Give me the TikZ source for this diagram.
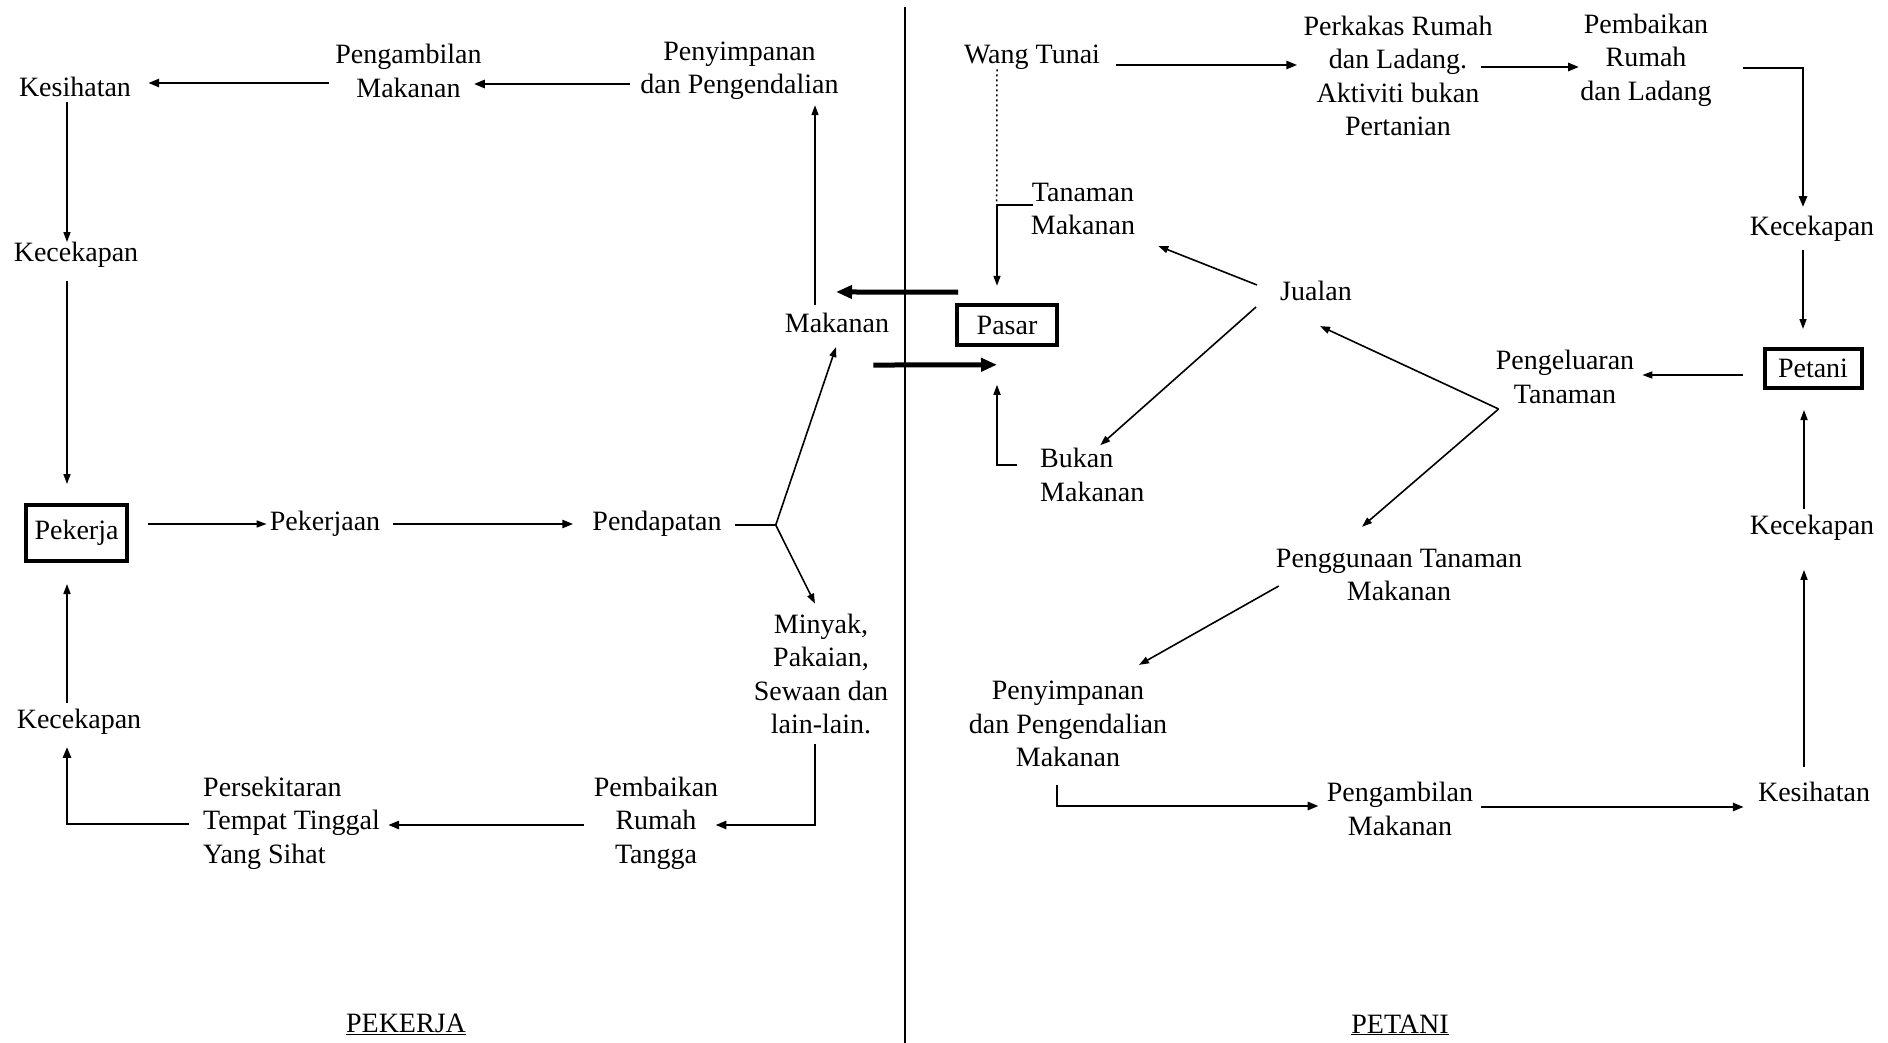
\documentclass[tikz,border=0pt]{standalone}
\usepackage{fontspec}
\setmainfont{Liberation Serif}
\usetikzlibrary{arrows.meta,calc}

\tikzset{
  teks/.style={font=\fontsize{28}{33.5}\selectfont, align=center, inner sep=0pt},
  kotak/.style={teks, draw, line width=4pt},
  panah/.style={line width=1.6pt, -{Triangle[length=10pt,width=7pt]}},
  panahB/.style={line width=2.6pt, -{Triangle[length=11pt,width=8pt]}},
  panahT/.style={line width=5pt, -{Triangle[length=16pt,width=13pt]}}
}

\begin{document}
\begin{tikzpicture}[x=1pt,y=-1pt]
  \useasboundingbox (0,0) rectangle (1888,1043);
  % 中央の仕切り線
  \draw[line width=2pt] (905,7) -- (905,1043);

  % 労働者側のノード
  \node[teks] (kesA) at (75,87) {Kesihatan};
  \node[teks] (pmbA) at (408.5,71) {Pengambilan\\Makanan};
  \node[teks] (pnyA) at (739.5,71) {Penyimpanan\\dan Pengendalian};
  \node[teks] (kcpA1) at (76,255) {Kecekapan};
  \node[kotak, minimum width=101pt, minimum height=56pt] (pkj) at (76.5,533) {Pekerja};
  \node[teks] (pkjn) at (325,524) {Pekerjaan};
  \node[teks] (pndp) at (657,524) {Pendapatan};
  \node[teks] (mkn) at (837,323) {Makanan};
  \node[teks] (mny) at (821,674) {Minyak,\\Pakaian,\\Sewaan dan\\lain-lain.};
  \node[teks] (pbkA) at (656,823) {Pembaikan\\Rumah\\Tangga};
  \node[teks, align=left, anchor=west] (psk) at (203,823) {Persekitaran\\Tempat Tinggal\\Yang Sihat};
  \node[teks] (kcpA2) at (79,722) {Kecekapan};
  \node[teks] (jdlA) at (406,1024) {\underline{PEKERJA}};

  % 労働者側の矢印
  \draw[panahB] ($(pnyA.west)+(-10,13)$) -- ($(pmbA.east)+(-8,13)$);
  \draw[panahB] ($(pmbA.west)+(-6,12)$) -- ($(kesA.east)+(17,-4)$);
  \draw[panah] ($(kesA.south)+(-8,5)$) -- ($(kcpA1.north)+(-9,0)$);
  \draw[panah] ($(kcpA1.south)+(-9,13)$) -- ($(pkj.north)+(-9.5,-19)$);
  \draw[panah] ($(pkj.east)+(19,-9)$) -- ($(pkjn.west)+(-3,0)$);
  \draw[panahB] ($(pkjn.east)+(13,0)$) -- ($(pndp.west)+(-19,0)$);
  \coordinate (simpang) at ($(pndp.east)+(54,1)$);
  \draw[line width=2.6pt] ($(pndp.east)+(13,1)$) -- (simpang);
  \draw[panah] (simpang) -- ($(mkn.south)+(-1,14)$);
  \draw[panah] (simpang) -- ($(mny.north)+(-6,-10)$);
  \draw[panah] ($(mkn.north)+(-22,-8)$) -- ($(pnyA.south)+(75.5,5)$);
  \draw[panahB] ($(mny.south)+(-6,10)$) |- ($(pbkA.east)+(-3,2)$);
  \draw[panahB] ($(pbkA.west)+(-10,2)$) -- ($(psk.east)+(8,2)$);
  \draw[panahB] ($(psk.west)+(-14,1)$) -| ($(kcpA2.south)+(-12,12)$);
  \draw[panah] ($(kcpA2.north)+(-12,-6)$) -- ($(pkj.south)+(-9.5,21)$);

  % 農民側のノード
  \node[teks] (wang) at (1032,57) {Wang Tunai};
  \node[teks] (pkk) at (1398,76) {Perkakas Rumah\\dan Ladang.\\Aktiviti bukan\\Pertanian};
  \node[teks] (pbkB) at (1646,60) {Pembaikan\\Rumah\\dan Ladang};
  \node[teks] (kcpB1) at (1812,229) {Kecekapan};
  \node[kotak, minimum width=97pt, minimum height=39pt] (pet) at (1813,368) {Petani};
  \node[teks] (pgl) at (1565,377) {Pengeluaran\\Tanaman};
  \node[teks] (jual) at (1316,291) {Jualan};
  \node[teks] (tnm) at (1083,209) {Tanaman\\Makanan};
  \node[kotak, minimum width=100pt, minimum height=39.5pt] (pasar) at (1007,325) {Pasar};
  \node[teks, align=left, anchor=west] (bkn) at (1040,475) {Bukan\\Makanan};
  \node[teks] (pgn) at (1399,575) {Penggunaan Tanaman\\Makanan};
  \node[teks] (pnyB) at (1068,724) {Penyimpanan\\dan Pengendalian\\Makanan};
  \node[teks] (pmbB) at (1400,809) {Pengambilan\\Makanan};
  \node[teks] (kesB) at (1814,792) {Kesihatan};
  \node[teks] (kcpB2) at (1812,528) {Kecekapan};
  \node[teks] (jdlB) at (1400,1025) {\underline{PETANI}};

  % 市場との間の太い矢印
  \draw[panahT] ($(pasar.north west)+(3,-11)$) -- ($(mkn.north)+(-1,-21)$);
  \draw[panahT] ($(mkn.south east)+(-16,32)$) -- ($(pasar.south)+(-10,18)$);

  % 農民側の矢印
  \draw[panahB] ($(wang.east)+(15.5,8)$) -- ($(pkk.west)+(-6,-11)$);
  \draw[panahB] ($(pkk.east)+(-12,-9)$) -- ($(pbkB.west)+(-1,7)$);
  \draw[panahB] ($(pbkB.east)+(31,8)$) -| ($(kcpB1.north)+(-9,-9)$);
  \draw[panah] ($(kcpB1.south)+(-9,8)$) -- ($(pet.north)+(-10,-17.5)$);
  \draw[panah] ($(pet.west)+(-19.5,7)$) -- ($(pgl.east)+(8,-2)$);
  \draw[panah] ($(kcpB2.north)+(-8,-6)$) -- ($(pet.south)+(-9,20.5)$);
  \draw[panah] ($(kesB.north)+(-10,-15)$) -- ($(kcpB2.south)+(-8,29)$);
  \coordinate (sudut) at ($(pgl.west)+(3,32)$);
  \draw[panah] (sudut) -- ($(jual.south)+(4,25)$);
  \draw[panah] (sudut) -- ($(pgn.north)+(-37,-22)$);
  \draw[panah] ($(jual.west)+(-23,-6)$) -- ($(tnm.east)+(23,37)$);
  \draw[panah] ($(jual.west)+(-24,16)$) -- ($(bkn.north)+(8,-3)$);
  \draw[panah] ($(tnm.west)+(2,-4)$) -| ($(pasar.north)+(-10,-17.5)$);
  \draw[line width=1.5pt, dash pattern=on 2pt off 3pt] ($(wang.south)+(-35,0)$) -- ($(tnm.west)+(-34,-4)$);
  \draw[panah] ($(bkn.west)+(-23,-10)$) -| ($(pasar.south)+(-10,38)$);
  \draw[panah] ($(pgn.west)+(3,11)$) -- ($(pnyB.north)+(71,-16)$);
  \draw[panahB] ($(pnyB.south)+(-11,18)$) |- ($(pmbB.west)+(-8,-3)$);
  \draw[panahB] ($(pmbB.east)+(8,-2)$) -- ($(kesB.west)+(-14,15)$);
\end{tikzpicture}
\end{document}
